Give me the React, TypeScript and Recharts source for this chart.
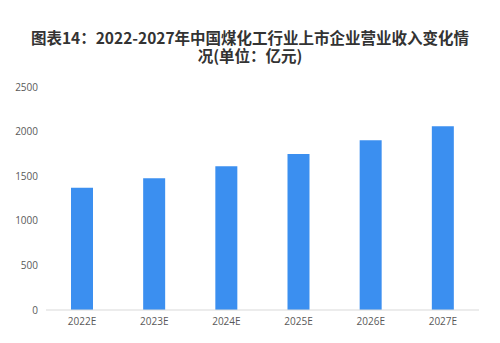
import { Bar, BarChart, XAxis, YAxis } from "recharts";

// 中国煤化工行业上市企业营业收入（亿元），读自原图
const years = ["2022E", "2023E", "2024E", "2025E", "2026E", "2027E"];
const revenue = [1371, 1476, 1611, 1749, 1902, 2059];
const yTicks = [0, 500, 1000, 1500, 2000, 2500];

const data = years.map((year, i) => ({ year, revenue: revenue[i] }));

const tickStyle = { fontSize: 10, fill: "#595959", fontFamily: "'Open Sans', 'Noto Sans', sans-serif" };

export default function App() {
  return (
    <div style={{ position: "absolute", left: 0, top: 0, width: 500, height: 343, background: "#fff" }}>
      <div
        style={{
          position: "absolute",
          left: 0,
          top: 28,
          width: 500,
          textAlign: "center",
          fontFamily: "'Noto Sans CJK SC', sans-serif",
          fontWeight: 700,
          fontSize: 15.5,
          lineHeight: "18px",
          color: "#333",
        }}
      >
        图表14：2022-2027年中国煤化工行业上市企业营业收入变化情
        <br />
        况(单位：亿元)
      </div>
      <BarChart
        width={500}
        height={343}
        data={data}
        margin={{ top: 87, right: 21, bottom: 3, left: 6 }}
      >
        <XAxis
          dataKey="year"
          height={30}
          tickLine={false}
          axisLine={{ stroke: "#d9d9d9" }}
          tick={tickStyle}
        />
        <YAxis
          width={40}
          domain={[0, 2500]}
          ticks={yTicks}
          tickLine={false}
          axisLine={false}
          tick={tickStyle}
        />
        <Bar dataKey="revenue" fill="#3b8ff0" barSize={22} isAnimationActive={false} />
      </BarChart>
    </div>
  );
}
